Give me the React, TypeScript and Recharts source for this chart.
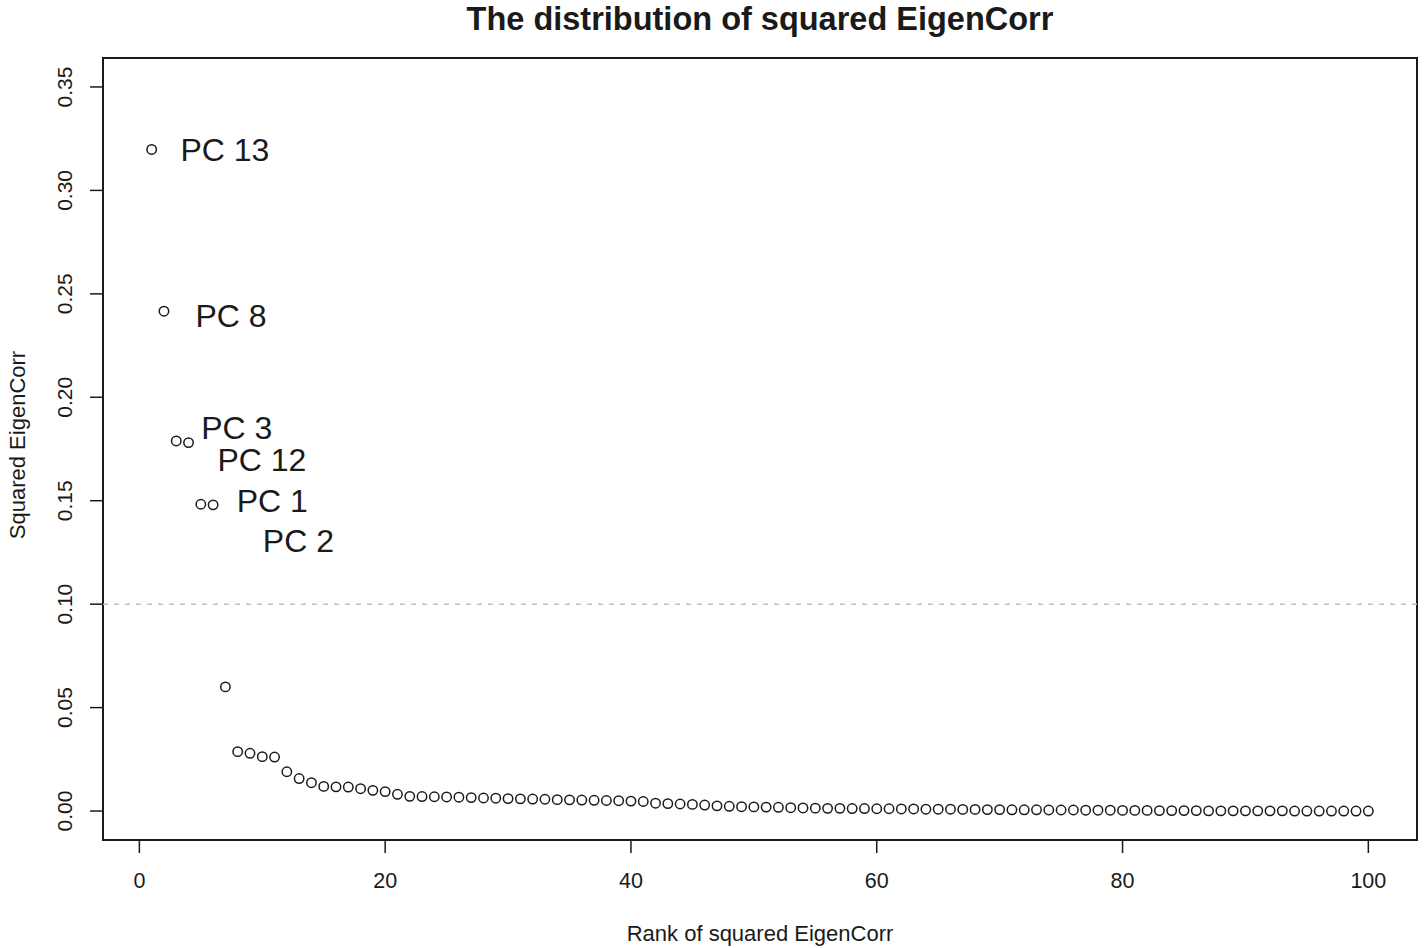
import React from 'react';
import {
  ScatterChart, Scatter, XAxis, YAxis, ReferenceLine, ReferenceArea,
} from 'recharts';

// ── Data ──────────────────────────────────────────────────────────────────────

// squared EigenCorr, sorted by rank (rank = index + 1)
const squaredCorr = [
  0.3198, 0.2416, 0.1789, 0.1781, 0.1483, 0.1480, 0.0600, 0.0287, 0.0279, 0.0263,
  0.0261, 0.0190, 0.0157, 0.0137, 0.0119, 0.0117, 0.0116, 0.0108, 0.0100, 0.0094,
  0.0081, 0.0071, 0.0070, 0.0069, 0.0068, 0.0067, 0.0065, 0.0063, 0.0062, 0.0060,
  0.0059, 0.0058, 0.0057, 0.0055, 0.0054, 0.0053, 0.0052, 0.0051, 0.0050, 0.0048,
  0.0046, 0.0038, 0.0036, 0.0034, 0.0032, 0.0029, 0.0025, 0.0023, 0.0021, 0.0020,
  0.0019, 0.0018, 0.0016, 0.0015, 0.0014, 0.0013, 0.0013, 0.0012, 0.0012, 0.0011,
  0.0011, 0.0010, 0.0010, 0.0009, 0.0009, 0.0009, 0.0008, 0.0008, 0.0007, 0.0007,
  0.0006, 0.0006, 0.0006, 0.0005, 0.0005, 0.0005, 0.0004, 0.0004, 0.0004, 0.0003,
  0.0003, 0.0003, 0.0002, 0.0002, 0.0002, 0.0002, 0.0001, 0.0001, 0.0001, 0.0001,
  0.0001, 0.0001, 0.0001, 0.0000, 0.0000, 0.0000, 0.0000, 0.0000, 0.0000, 0.0000,
];

// labels for the top components, placed in data coordinates (like R's text())
const pcLabels = ['PC 13', 'PC 8', 'PC 3', 'PC 12', 'PC 1', 'PC 2'];
const pcLabelX = [6.96, 7.46, 7.93, 9.97, 10.82, 12.94];
const pcLabelY = [0.3200, 0.2397, 0.1854, 0.1701, 0.1499, 0.1306];

const xTicks = [0, 20, 40, 60, 80, 100];
const yTicks = [0, 0.05, 0.1, 0.15, 0.2, 0.25, 0.3, 0.35];
const xDomain: [number, number] = [-2.96, 103.96];
const yDomain: [number, number] = [-0.014, 0.364];
const threshold = 0.1;

const points = squaredCorr.map((v, i) => ({ rank: i + 1, value: v }));
const labelPoints = pcLabels.map((name, i) => ({ rank: pcLabelX[i], value: pcLabelY[i], name }));

// ── Styling ───────────────────────────────────────────────────────────────────

const FONT = '"Liberation Sans", Arial, Helvetica, sans-serif';
const INK = '#1a1a1a';

const OpenCircle = (props: any) => {
  const { cx, cy } = props;
  if (cx == null || cy == null) return null;
  return <circle cx={cx} cy={cy} r={4.7} fill="none" stroke={INK} strokeWidth={1.5} />;
};

const PcLabel = (props: any) => {
  const { cx, cy, payload } = props;
  if (cx == null || cy == null) return null;
  return (
    <text x={cx} y={cy + 11.5} textAnchor="middle" fontFamily={FONT} fontSize={32} fill={INK}>
      {payload.name}
    </text>
  );
};

const XTick = ({ x, y, payload }: any) => (
  <text x={x} y={y + 33} textAnchor="middle" fontFamily={FONT} fontSize={21.5} fill={INK}>
    {payload.value}
  </text>
);

const YTick = ({ x, y, payload }: any) => {
  const tx = x - 16;
  return (
    <text
      x={tx}
      y={y}
      transform={`rotate(-90, ${tx}, ${y})`}
      textAnchor="middle"
      fontFamily={FONT}
      fontSize={21}
      fill={INK}
    >
      {Number(payload.value).toFixed(2)}
    </text>
  );
};

// ── Component ─────────────────────────────────────────────────────────────────

export default function App() {
  const W = 1424;
  const H = 948;
  return (
    <div style={{ position: 'absolute', left: 0, top: 0, width: W, height: H, background: '#fff' }}>
      <ScatterChart width={W} height={H} margin={{ top: 58, right: 7, left: 0, bottom: 0 }}>
        <XAxis
          type="number"
          dataKey="rank"
          domain={xDomain}
          ticks={xTicks}
          allowDataOverflow
          axisLine={false}
          tickLine={{ stroke: INK, strokeWidth: 1.5 }}
          tickSize={13}
          height={108}
          tick={<XTick />}
          interval={0}
        />
        <YAxis
          type="number"
          dataKey="value"
          domain={yDomain}
          ticks={yTicks}
          allowDataOverflow
          axisLine={false}
          tickLine={{ stroke: INK, strokeWidth: 1.5 }}
          tickSize={13}
          width={103}
          tick={<YTick />}
          interval={0}
        />
        <ReferenceLine y={threshold} stroke="#bdbdbd" strokeWidth={1.5} strokeDasharray="5 6" />
        <Scatter data={points} shape={<OpenCircle />} isAnimationActive={false} />
        <Scatter data={labelPoints} shape={<PcLabel />} isAnimationActive={false} />
        {/* plot box, like R's box() */}
        <ReferenceArea
          x1={xDomain[0]}
          x2={xDomain[1]}
          y1={yDomain[0]}
          y2={yDomain[1]}
          ifOverflow="visible"
          fill="none"
          fillOpacity={0}
          stroke={INK}
          strokeWidth={2}
          strokeOpacity={1}
        />
      </ScatterChart>
      <svg
        width={W}
        height={H}
        style={{ position: 'absolute', left: 0, top: 0, pointerEvents: 'none' }}
      >
        <text x={760} y={30} textAnchor="middle" fontFamily={FONT} fontWeight="bold" fontSize={32.5} fill={INK}>
          The distribution of squared EigenCorr
        </text>
        <text x={760} y={941} textAnchor="middle" fontFamily={FONT} fontSize={22} fill={INK}>
          Rank of squared EigenCorr
        </text>
        <text
          x={25}
          y={445}
          transform="rotate(-90, 25, 445)"
          textAnchor="middle"
          fontFamily={FONT}
          fontSize={22}
          fill={INK}
        >
          Squared EigenCorr
        </text>
      </svg>
    </div>
  );
}
